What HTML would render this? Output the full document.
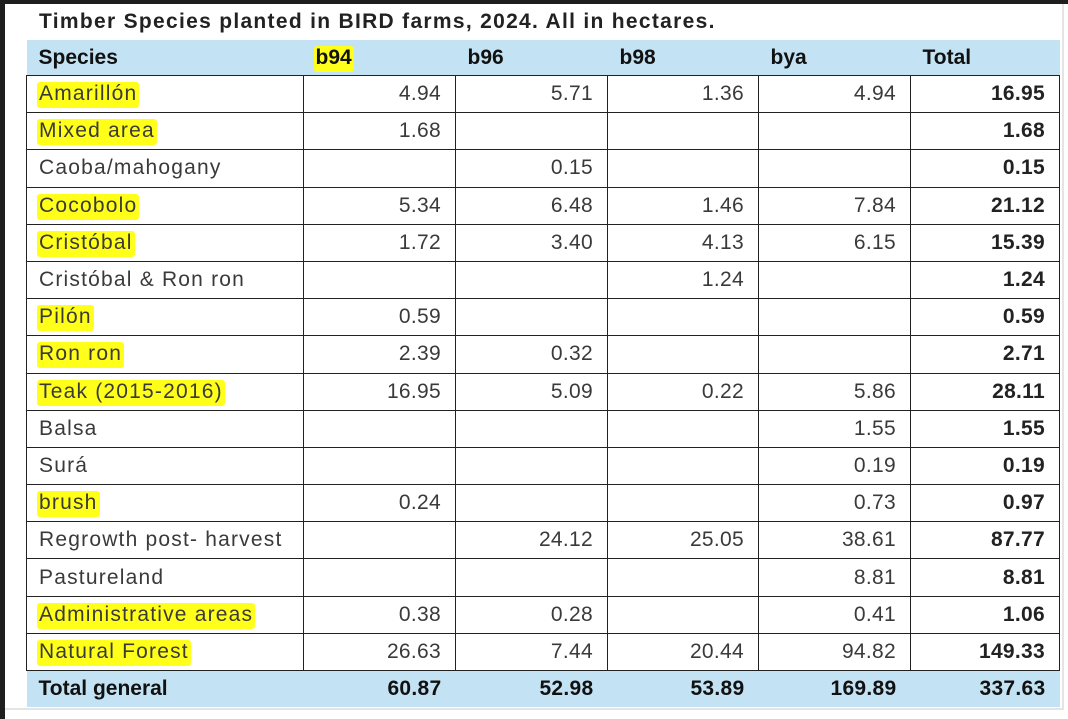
<!DOCTYPE html>
<html><head><meta charset="utf-8"><style>
html,body{margin:0;padding:0;width:1068px;height:719px;overflow:hidden;background:#1e1e1e;font-family:"Liberation Sans",sans-serif;}
#panel{position:absolute;left:5px;top:4px;width:1063px;height:715px;background:#fff;}
#edge{position:absolute;left:5px;top:708px;width:1058px;height:2px;background:#e4e4e4;}
#edge2{position:absolute;left:1062px;top:4px;width:2px;height:706px;background:#e4e4e4;}
#title{position:absolute;left:39px;top:10px;font-size:21px;letter-spacing:1.3px;font-weight:bold;color:#222;}
table{position:absolute;left:26px;top:40px;border-collapse:collapse;table-layout:fixed;font-size:21px;color:#3a3a3a;}
td,th{height:36.2px;padding:0 14px 0 12px;white-space:nowrap;}
tr.h th,tr.t td{background:#c3e3f4;font-weight:bold;color:#111;border:none;}
tr.h th{text-align:left;height:35px}
tr.d td{border:1.5px solid #222;}
td.s{letter-spacing:1.2px;}
td.n{text-align:right;letter-spacing:0.3px;}
td.b{font-weight:bold;color:#222;}
.hl{background:#ffff1a;border-radius:3px;padding:0 2px;margin-left:-2px;box-shadow:0 3px 0 #ffff1a;}
</style></head><body>
<div id="panel"></div>
<div id="edge"></div>
<div id="edge2"></div>
<div id="title">Timber Species planted in BIRD farms, 2024. All in hectares.</div>
<table>
<colgroup><col style="width:277px"><col style="width:152px"><col style="width:152px"><col style="width:151px"><col style="width:152px"><col style="width:149px"></colgroup>
<tbody id="tb"></tbody>
</table>
<script>
const headers=["Species","b94","b96","b98","bya","Total"];
const rows=[
["Amarillón","4.94","5.71","1.36","4.94","16.95",1],
["Mixed area","1.68","","","","1.68",1],
["Caoba/mahogany","","0.15","","","0.15",0],
["Cocobolo","5.34","6.48","1.46","7.84","21.12",1],
["Cristóbal","1.72","3.40","4.13","6.15","15.39",1],
["Cristóbal &amp; Ron ron","","","1.24","","1.24",0],
["Pilón","0.59","","","","0.59",1],
["Ron ron","2.39","0.32","","","2.71",1],
["Teak (2015-2016)","16.95","5.09","0.22","5.86","28.11",1],
["Balsa","","","","1.55","1.55",0],
["Surá","","","","0.19","0.19",0],
["brush","0.24","","","0.73","0.97",1],
["Regrowth post- harvest","","24.12","25.05","38.61","87.77",0],
["Pastureland","","","","8.81","8.81",0],
["Administrative areas","0.38","0.28","","0.41","1.06",1],
["Natural Forest","26.63","7.44","20.44","94.82","149.33",1]];
const totals=["Total general","60.87","52.98","53.89","169.89","337.63"];
let h='<tr class="h">';
headers.forEach((x,i)=>{h+='<th>'+(i==1?'<span class="hl">'+x+'</span>':x)+'</th>';});
h+='</tr>';
rows.forEach((r,k)=>{h+='<tr class="d">';
for(let i=0;i<6;i++){const v=r[i];
if(i==0)h+='<td class="s">'+(r[6]?'<span class="hl">'+v+'</span>':v)+'</td>';
else h+='<td class="n'+(i==5?' b':'')+'">'+v+'</td>';}
h+='</tr>';});
h+='<tr class="t">';
totals.forEach((x,i)=>{h+='<td class="'+(i?'n':'')+'">'+x+'</td>';});
h+='</tr>';
document.getElementById('tb').innerHTML=h;
</script>
</body></html>
